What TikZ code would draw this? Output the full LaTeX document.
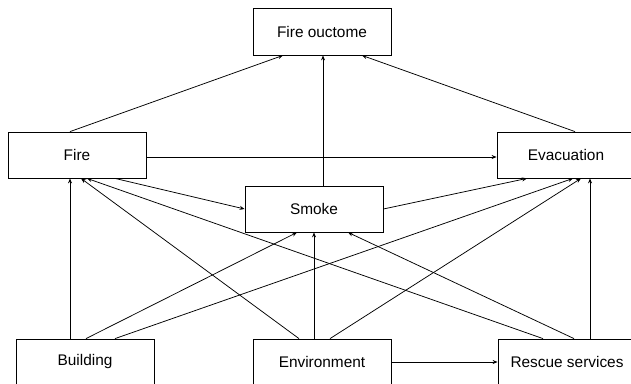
\documentclass[tikz,border=0pt]{standalone}
\usepackage{fontspec}
\setmainfont{Liberation Sans}
\usetikzlibrary{arrows.meta}
\begin{document}
\begin{tikzpicture}[x=1pt,y=-1pt,
  box/.style={draw=black, line width=0.8pt, minimum width=138pt, minimum height=46pt,
    inner sep=0pt, font=\fontsize{15.4}{18}\selectfont},
  link/.style={draw=black, line width=0.75pt, -{Stealth[length=5pt,width=4pt]}}]
  \useasboundingbox (0,0) rectangle (631,383);
  \clip (0,0) rectangle (631,383);

  % factors and outcome
  \node[box, minimum height=47pt] (fo) at (322,31.5) {Fire ouctome};
  \node[box] (fire)  at (77,155)  {Fire};
  \node[box] (evac)  at (566,155) {Evacuation};
  \node[box] (smoke) at (314,209) {Smoke};
  \node[box] (bld)   at (85,362)  {Building};
  \node[box] (env)   at (322,362) {Environment};
  \node[box] (res)   at (567,362) {Rescue services};

  % links to the outcome
  \draw[link] ([xshift=-7pt]fire.north) -- ([xshift=-39pt]fo.south);
  \draw[link] ([xshift=9pt]smoke.north) -- ([xshift=1pt]fo.south);
  \draw[link] ([xshift=9pt]evac.north) -- ([xshift=40pt]fo.south);

  % middle layer
  \draw[link] ([yshift=-2pt]fire.east) -- ([yshift=-2pt]evac.west);
  \draw[link] ([xshift=38pt]fire.south) -- (smoke.west);
  \draw[link] (smoke.east) -- ([xshift=-39pt]evac.south);

  % from Building
  \draw[link] ([xshift=-15pt]bld.north) -- ([xshift=-7pt]fire.south);
  \draw[link] ([xshift=1pt]bld.north) -- ([xshift=-17pt]smoke.south);
  \draw[link] ([xshift=30pt]bld.north) -- ([xshift=7pt]evac.south);

  % from Environment
  \draw[link] ([xshift=-23pt]env.north) -- ([xshift=4pt]fire.south);
  \draw[link] ([xshift=-8pt]env.north) -- (smoke.south);
  \draw[link] ([xshift=8pt]env.north) -- ([xshift=15pt]evac.south);
  \draw[link] (env.east) -- (res.west);

  % from Rescue services
  \draw[link] ([xshift=-24pt]res.north) -- ([xshift=10pt]fire.south);
  \draw[link] ([xshift=7pt]res.north) -- ([xshift=34pt]smoke.south);
  \draw[link] ([xshift=23pt]res.north) -- ([xshift=24pt]evac.south);
\end{tikzpicture}
\end{document}
